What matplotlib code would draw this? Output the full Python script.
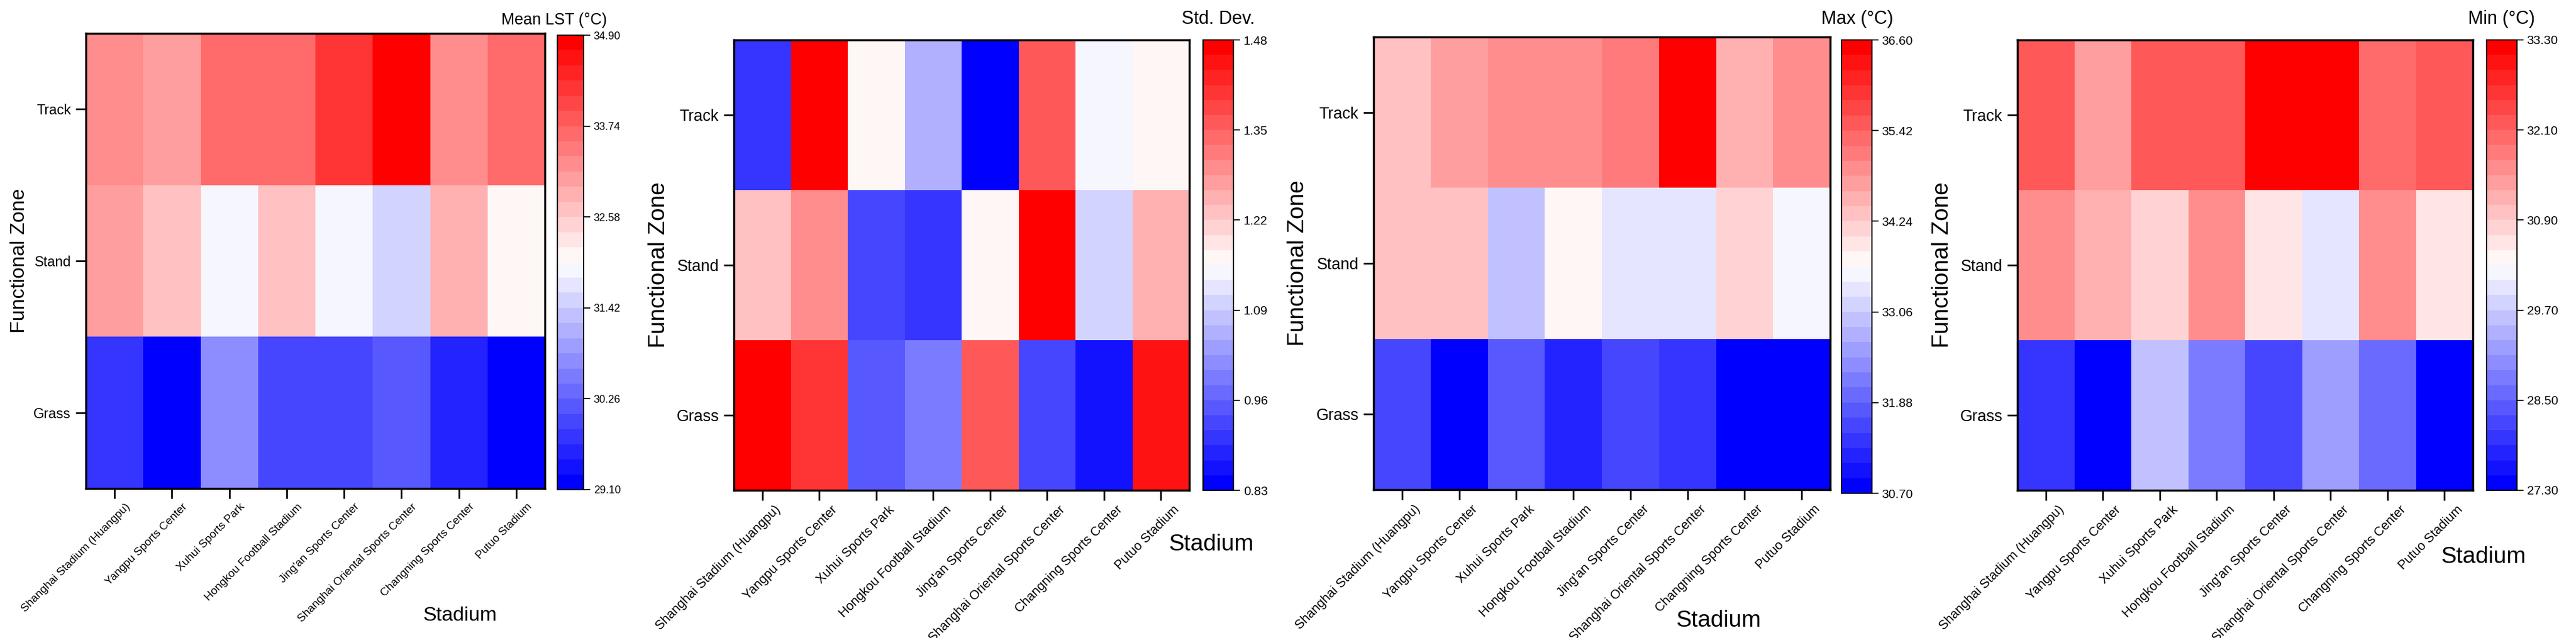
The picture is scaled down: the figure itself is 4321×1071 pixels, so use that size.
import matplotlib
matplotlib.use('Agg')
import matplotlib.pyplot as plt
import numpy as np
from matplotlib.colors import Normalize

plt.rcParams['font.family'] = ['Liberation Sans', 'DejaVu Sans']

stadiums = ["Shanghai Stadium (Huangpu)", "Yangpu Sports Center", "Xuhui Sports Park",
            "Hongkou Football Stadium", "Jing'an Sports Center",
            "Shanghai Oriental Sports Center", "Changning Sports Center", "Putuo Stadium"]
zones = ["Track", "Stand", "Grass"]

# Mean LST (°C)
mean_track = [33.26, 33.06, 33.64, 33.64, 34.22, 34.90, 33.26, 33.64]
mean_stand = [33.06, 32.67, 31.90, 32.67, 31.90, 31.51, 32.87, 32.10]
mean_grass = [29.78, 29.10, 30.74, 29.97, 29.97, 30.16, 29.58, 29.19]
mean_range = [29.10, 34.90]

# Std. Dev.
std_track = [0.90, 1.48, 1.17, 1.06, 0.83, 1.37, 1.15, 1.17]
std_stand = [1.23, 1.30, 0.92, 0.90, 1.17, 1.47, 1.10, 1.26]
std_grass = [1.47, 1.41, 0.95, 0.99, 1.37, 0.92, 0.86, 1.45]
std_range = [0.83, 1.48]

# Max (°C)
max_track = [34.34, 34.73, 34.93, 34.93, 35.13, 36.60, 34.54, 34.93]
max_stand = [34.34, 34.34, 32.96, 33.75, 33.36, 33.36, 34.14, 33.65]
max_grass = [31.59, 30.70, 31.78, 31.19, 31.59, 31.39, 30.72, 30.75]
max_range = [30.70, 36.60]

# Min (°C)
min_track = [32.20, 31.40, 32.20, 32.20, 33.30, 33.28, 32.00, 32.20]
min_stand = [31.60, 31.20, 30.80, 31.60, 30.60, 30.00, 31.60, 30.60]
min_grass = [28.00, 27.30, 29.60, 28.80, 28.20, 29.20, 28.60, 27.32]
min_range = [27.30, 33.30]

W, H = 4321, 1071
fig = plt.figure(figsize=(W / 100, H / 100), dpi=100)
cmap = matplotlib.colormaps['bwr'].resampled(30)


def box(x0, y0, x1, y1):
    return [x0 / W, 1 - y1 / H, (x1 - x0) / W, (y1 - y0) / H]


panels = [
    dict(data=[mean_track, mean_stand, mean_grass], rng=mean_range, title="Mean LST (°C)",
         ax=(144, 56, 914, 820), cb=(935, 59, 979, 822), s=0.87,
         title_xy=(930, 34), xlab_xy=(772, 1034), ylab_xy=(33, 438)),
    dict(data=[std_track, std_stand, std_grass], rng=std_range, title="Std. Dev.",
         ax=(1231, 67, 1995, 823), cb=(2018, 67, 2069, 823), s=1.0,
         title_xy=(2043, 32), xlab_xy=(2032, 914), ylab_xy=(1105, 445)),
    dict(data=[max_track, max_stand, max_grass], rng=max_range, title="Max (°C)",
         ax=(2304, 62, 3070, 822), cb=(3089, 67, 3140, 828), s=1.0,
         title_xy=(3115, 32), xlab_xy=(2883, 1042), ylab_xy=(2177, 442)),
    dict(data=[min_track, min_stand, min_grass], rng=min_range, title="Min (°C)",
         ax=(3384, 67, 4148, 823), cb=(4171, 67, 4222, 823), s=1.0,
         title_xy=(4196, 32), xlab_xy=(4166, 935), ylab_xy=(3258, 445)),
]

for p in panels:
    s = p['s']
    ax = fig.add_axes(box(*p['ax']))
    cax = fig.add_axes(box(*p['cb']))
    arr = np.array(p['data'])
    norm = Normalize(vmin=p['rng'][0], vmax=p['rng'][1])
    m = ax.pcolormesh(np.arange(len(stadiums) + 1), np.arange(len(zones) + 1), arr,
                      cmap=cmap, norm=norm)
    ax.set_xlim(0, len(stadiums))
    ax.set_ylim(len(zones), 0)
    ax.set_xticks(np.arange(len(stadiums)) + 0.5)
    ax.set_xticklabels(stadiums, rotation=45, ha='right', va='top',
                       rotation_mode='anchor', fontsize=15.7 * s)
    ax.set_yticks(np.arange(len(zones)) + 0.5)
    ax.set_yticklabels(zones, fontsize=19.4 * s)
    ax.tick_params(axis='x', direction='out', length=12, width=2, pad=4)
    ax.tick_params(axis='y', direction='out', length=12, width=2, pad=6)
    for lab in ax.get_xticklabels():
        lab.set_transform(lab.get_transform() +
                          matplotlib.transforms.ScaledTranslation(0.20 * s, 0, fig.dpi_scale_trans))
    for sp in ax.spines.values():
        sp.set_linewidth(2.5)

    cb = fig.colorbar(m, cax=cax)
    cb.set_ticks(np.linspace(p['rng'][0], p['rng'][1], 6))
    cb.ax.yaxis.set_major_formatter(matplotlib.ticker.FormatStrFormatter('%.2f'))
    cb.ax.tick_params(direction='out', length=8, width=1.3, labelsize=15 * s, pad=4)
    cb.outline.set_linewidth(1.5)

    fig.text(p['title_xy'][0] / W, 1 - p['title_xy'][1] / H, p['title'],
             ha='center', va='center', fontsize=22 * s)
    fig.text(p['xlab_xy'][0] / W, 1 - p['xlab_xy'][1] / H, "Stadium",
             ha='center', va='center', fontsize=28 * s)
    fig.text(p['ylab_xy'][0] / W, 1 - p['ylab_xy'][1] / H, "Functional Zone",
             ha='center', va='center', rotation=90, fontsize=28 * s)

fig.savefig('out.png', dpi=100)
